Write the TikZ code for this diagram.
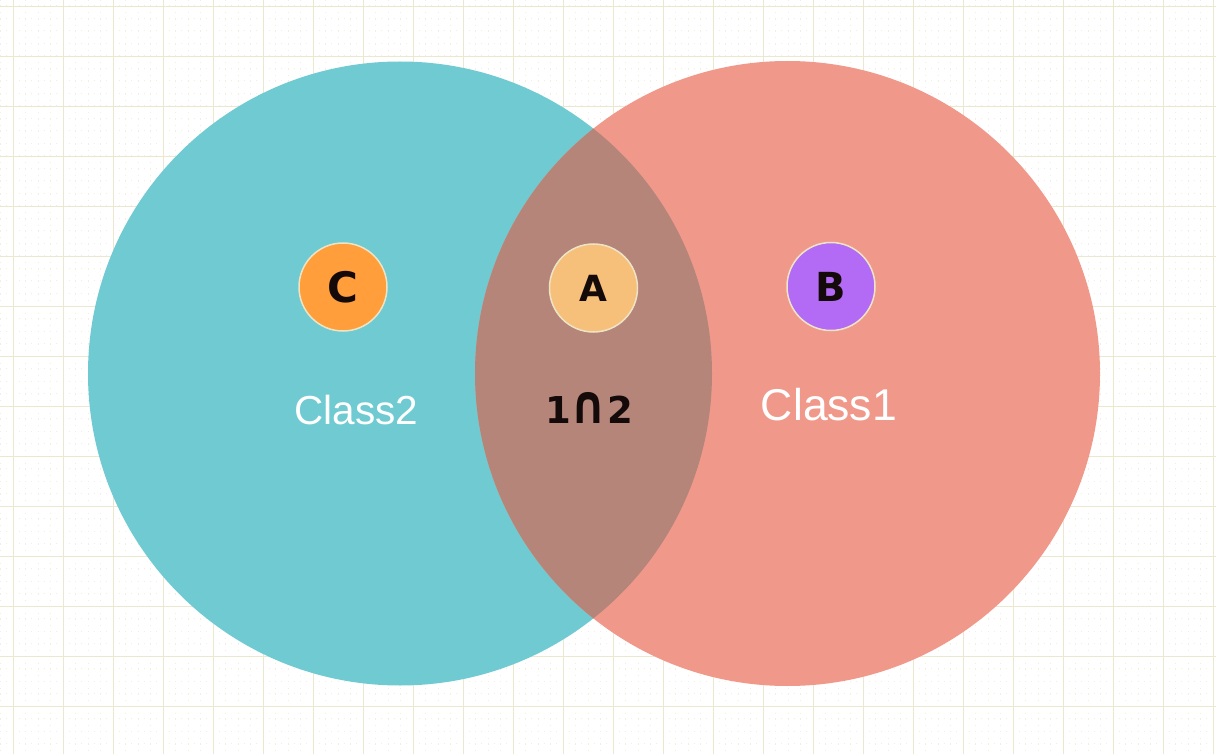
\documentclass[tikz,border=0pt]{standalone}
\usepackage{fontspec}
\usepackage{graphicx}
\setmainfont{Liberation Sans}
\newfontfamily\dejavu{DejaVu Sans}
\usetikzlibrary{positioning}

\definecolor{gridline}{HTML}{ECE8D0}
\definecolor{griddot}{HTML}{F2EFDE}
\definecolor{classtwo}{HTML}{6FCBD1}
\definecolor{classone}{HTML}{F0998B}
\definecolor{overlap}{HTML}{B5857A}
\definecolor{corange}{HTML}{FF9E3A}
\definecolor{bpurple}{HTML}{B36BF5}
\definecolor{afill}{HTML}{F6C07A}
\definecolor{rimcream}{HTML}{EDE4C6}
\definecolor{inkblack}{HTML}{140A0A}

\tikzset{
  dot/.style = {circle, draw=rimcream, line width=1.5pt, minimum size=88pt,
    inner sep=0pt, text=inkblack, font=\dejavu\bfseries\fontsize{40}{40}\selectfont},
  classlabel/.style = {text=white}
}

\begin{document}
\begin{tikzpicture}[x = 1pt, y = -1pt]
\useasboundingbox (0, 0) rectangle (1216, 754);
\fill[white] (0, 0) rectangle (1216, 754);
% background grid
\foreach \x in {0.5,13,...,1216}
  \draw[griddot, line width=1pt, dash pattern=on 1pt off 5.25pt] (\x, 0) -- (\x, 754);
\foreach \y in {6,18.5,...,754}
  \draw[griddot, line width=1pt, dash pattern=on 1pt off 5.25pt] (0, \y) -- (1216, \y);
\foreach \x in {13,63,...,1213}
  \draw[gridline, line width=0.9pt] (\x, 0) -- (\x, 754);
\foreach \y in {6,56,...,706}
  \draw[gridline, line width=0.9pt] (0, \y) -- (1216, \y);
% the two classes
\fill[classtwo] (400, 373.5) circle [radius = 312];
\fill[classone] (787.5, 373.5) circle [radius = 312.5];
\begin{scope}
  \clip (400, 373.5) circle [radius = 312];
  \fill[overlap] (787.5, 373.5) circle [radius = 312.5];
\end{scope}
% members
\node[dot, fill = corange, font = \dejavu\bfseries\fontsize{42}{42}\selectfont] (nodeC) at (343, 287) {C};
\node[dot, fill = afill, font = \dejavu\bfseries\fontsize{36}{36}\selectfont] (nodeA) at (593.5, 288) {A};
\node[dot, fill = bpurple] (nodeB) at (831, 286.5) {B};
% labels
\node[classlabel, font = \fontsize{40.5}{41}\selectfont] (class2) at (356.5, 410) {Class2};
\node[classlabel, font = \fontsize{44.5}{45}\selectfont] (class1) at (829, 405) {Class1};
\node[text = inkblack, font = \dejavu\bfseries\fontsize{37}{37}\selectfont, inner sep = 0pt] (meet) at (589, 408)
  {1\raisebox{0.02em}{\scalebox{1.2}[1.45]{∩}}2};
\end{tikzpicture}
\end{document}
